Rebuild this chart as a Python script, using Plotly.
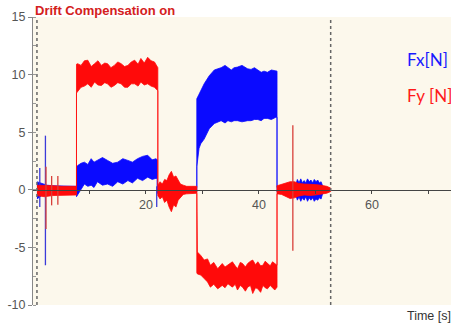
import plotly.graph_objects as go

# ---------------- data ----------------
# Fx [N] envelope: time, lower edge, upper edge (repeated times = steps)
fx_t = [0.7, 1.2, 1.8, 2.5, 3.5, 4.5, 5.5, 6.5, 7.7,
        7.7, 7.9, 8.5, 9.1, 9.7, 10.3, 10.8, 11.4, 12.3, 13.2, 14.1, 15.0, 15.9, 16.8,
        17.6, 18.5, 19.4, 20.3, 21.1, 21.8, 22.0,
        22.0, 23.0, 24.5, 26.0, 27.5, 29.0,
        29.0, 29.4, 29.7, 30.3, 31.2, 32.1, 32.7, 33.3, 34.0, 34.5, 35.1, 35.6, 36.2,
        37.0, 38.0, 38.6, 39.2, 39.8, 40.4, 40.9, 41.5, 42.2, 43.0, 43.2,
        43.2, 44.0, 45.5, 46.5, 46.8, 47.1, 47.4, 47.7, 48.0, 48.3, 48.6, 48.9, 49.2,
        49.5, 49.8, 50.1, 50.4, 50.7, 51.0, 51.3, 52.0]
fx_lo = [-0.8, -0.6, -0.4, -0.3, -0.3, -0.3, -0.25, -0.25, -0.25,
         -0.6, -0.5, 0.0, 0.5, 0.3, 0.4, 0.2, 0.7, 0.4, 0.5, 0.3, 0.7, 0.5, 0.8,
         0.6, 1.0, 0.8, 1.1, 0.9, 1.0, 0.9,
         -0.3, -0.25, -0.2, -0.2, -0.2, -0.2,
         2.0, 3.6, 4.0, 4.4, 5.3, 5.75, 5.9, 6.0, 5.8, 6.0, 5.9, 6.0, 6.0,
         5.9, 6.0, 6.0, 6.1, 6.1, 6.0, 6.2, 6.2, 6.1, 6.3, 6.3,
         -0.2, -0.25, -0.3, -0.4, -0.9, -0.6, -1.0, -0.7, -0.9, -0.6, -1.0, -0.7, -0.9,
         -0.7, -1.0, -0.8, -0.9, -0.7, -0.8, -0.3, -0.1]
fx_hi = [0.7, 0.6, 0.5, 0.4, 0.35, 0.35, 0.35, 0.3, 0.3,
         2.0, 2.1, 2.3, 2.4, 2.2, 2.7, 2.4, 2.55, 2.8, 2.55, 2.3, 2.4, 2.7, 2.55,
         2.4, 2.7, 2.9, 3.0, 2.6, 2.7, 2.6,
         0.3, 0.25, 0.25, 0.2, 0.2, 0.2,
         7.9, 8.3, 8.6, 9.2, 9.9, 10.4, 10.5, 10.6, 10.8, 10.65, 10.4, 10.6, 10.65,
         10.8, 10.5, 10.45, 10.6, 10.4, 10.2, 10.3, 10.2, 10.4, 10.3, 10.3,
         0.2, 0.25, 0.3, 0.4, 0.9, 0.6, 0.95, 0.6, 0.8, 0.6, 0.95, 0.7, 0.85,
         0.6, 0.9, 0.7, 0.85, 0.6, 0.7, 0.3, 0.1]

# Fy [N] envelope
fy_t = [0.7, 2.0, 3.5, 5.0, 6.5, 7.7,
        7.7, 7.9, 8.5, 9.1, 9.7, 10.3, 10.9, 11.5, 12.1, 12.7, 13.2, 13.8, 14.4, 15.0,
        15.6, 16.2, 16.8, 17.4, 18.0, 18.6, 19.1, 19.7, 20.3, 20.9, 21.5, 22.1,
        22.1, 22.5, 22.9, 23.3, 23.7, 24.1, 24.5, 24.9, 25.3, 25.7, 26.1, 26.6, 27.2, 28.0, 29.0,
        29.0, 29.1, 29.7, 30.3, 30.9, 31.4, 32.0, 32.7, 33.5, 34.0, 34.5, 35.3, 35.8, 36.2,
        36.7, 37.1, 37.6, 38.0, 38.5, 38.9, 39.4, 39.8, 40.3, 40.7, 41.1, 41.5, 42.0, 42.4,
        42.8, 43.2,
        43.2, 44.0, 44.8, 45.5, 46.3, 47.0, 48.0, 49.0, 50.0, 51.0, 52.0, 52.7]
fy_lo = [-0.5, -0.6, -0.5, -0.5, -0.45, -0.45,
         8.4, 8.5, 8.9, 9.0, 9.2, 8.9, 9.35, 9.1, 9.05, 9.3, 9.2, 8.9, 9.05, 9.3,
         9.2, 8.9, 8.9, 9.2, 9.2, 9.0, 9.35, 9.1, 9.2, 9.0, 8.9, 8.6,
         -0.5, -0.8, -0.6, -1.1, -0.9, -1.5, -1.9, -1.3, -1.5, -0.9, -0.7, -0.4, -0.35, -0.3, -0.3,
         -7.2, -7.3, -7.4, -7.7, -8.0, -8.45, -8.2, -8.6, -8.3, -8.5, -8.15, -8.45, -8.2, -8.7,
         -8.3, -8.45, -8.8, -8.45, -8.3, -9.0, -8.5, -8.6, -8.9, -8.3, -8.5, -8.6, -8.3, -8.5,
         -8.7, -8.45,
         -0.35, -0.4, -0.6, -0.75, -0.7, -0.55, -0.45, -0.5, -0.45, -0.4, -0.3, -0.15]
fy_hi = [0.4, 0.4, 0.35, 0.3, 0.3, 0.3,
         10.9, 10.95, 10.8, 11.2, 11.25, 10.7, 10.95, 11.2, 10.8, 11.0, 10.95, 10.6, 10.8, 11.1,
         10.95, 10.7, 10.8, 11.1, 11.25, 10.9, 11.4, 11.0, 11.5, 11.2, 11.1, 10.6,
         0.4, 0.7, 0.5, 0.9, 0.8, 1.3, 1.6, 1.1, 1.2, 0.8, 0.5, 0.4, 0.3, 0.3, 0.3,
         0.3, -5.4, -5.7, -6.1, -6.0, -6.55, -6.3, -6.85, -6.4, -6.7, -6.55, -6.25, -6.6, -6.85,
         -6.3, -6.4, -6.7, -6.4, -6.2, -6.1, -6.5, -6.25, -6.6, -6.55, -6.2, -6.4, -6.6, -6.25,
         -6.4, -6.55,
         0.35, 0.45, 0.6, 0.7, 0.7, 0.55, 0.5, 0.5, 0.45, 0.4, 0.3, 0.15]

# isolated spikes: time, min, max
fx_spike_t = [1.2, 2.2, 21.9]
fx_spike_lo = [-1.5, -6.55, -1.5]
fx_spike_hi = [1.9, 4.7, 0.3]
fy_spike_t = [2.3, 3.3, 4.4, 46.0]
fy_spike_lo = [-3.4, -1.35, -1.3, -5.3]
fy_spike_hi = [2.0, 1.2, 1.2, 5.6]

marker_times = [0.7, 52.7]           # dotted vertical markers
x_tick_vals = [10, 20, 30, 40, 50, 60, 70]
x_tick_text = ["", "20", "", "40", "", "60", ""]
y_tick_vals = [-10, -5, 0, 5, 10, 15]
y_tick_text = ["-10", "-5", "0", "5", "10", "15"]

title_text = "Drift Compensation on"
series_names = ["Fx[N]", "Fy [N]"]
x_label = "Time [s]"

# ---------------- figure ----------------
BLUE = "#0a0aff"
RED = "#ff0a0a"


def band(t, lo, hi):
    return list(t) + list(t)[::-1], list(hi) + list(lo)[::-1]


def spikes(t, lo, hi):
    xs, ys = [], []
    for a, b, c in zip(t, lo, hi):
        xs += [a, a, None]
        ys += [b, c, None]
    return xs, ys


fig = go.Figure()

bx, by = band(fx_t, fx_lo, fx_hi)
fig.add_trace(go.Scatter(x=bx, y=by, mode="lines", fill="toself", fillcolor=BLUE,
                         line=dict(color=BLUE, width=0.8), hoverinfo="skip", showlegend=False))
sx, sy = spikes(fx_spike_t, fx_spike_lo, fx_spike_hi)
fig.add_trace(go.Scatter(x=sx, y=sy, mode="lines", line=dict(color="#3b3bd9", width=1.3),
                         hoverinfo="skip", showlegend=False))

bx, by = band(fy_t, fy_lo, fy_hi)
fig.add_trace(go.Scatter(x=bx, y=by, mode="lines", fill="toself", fillcolor=RED,
                         line=dict(color=RED, width=0.8), hoverinfo="skip", showlegend=False))
sx, sy = spikes(fy_spike_t, fy_spike_lo, fy_spike_hi)
fig.add_trace(go.Scatter(x=sx, y=sy, mode="lines", line=dict(color="#d8403a", width=1.3),
                         hoverinfo="skip", showlegend=False))

for mt in marker_times:
    fig.add_shape(type="line", x0=mt, x1=mt, y0=0, y1=1, xref="x", yref="paper",
                  line=dict(color="#666666", width=1.5, dash="dot"), layer="above")

tick_font = dict(family="Liberation Sans, Arial", size=12.5, color="#555555")

fig.update_layout(
    width=451, height=326,
    margin=dict(l=33, r=0, t=17, b=21),
    paper_bgcolor="white",
    plot_bgcolor="#fcf8ec",
    showlegend=False,
    xaxis=dict(range=[0, 74], showgrid=False, zeroline=False,
               anchor="free", position=0.4, showline=True, linecolor="#444444", linewidth=1,
               tickmode="array", tickvals=x_tick_vals, ticktext=x_tick_text,
               ticks="outside", ticklen=3, tickcolor="#444444", tickfont=tick_font,
               layer="above traces"),
    yaxis=dict(range=[-10, 15], showgrid=False, zeroline=False,
               showline=True, linecolor="#888888", linewidth=1,
               tickmode="array", tickvals=y_tick_vals, ticktext=y_tick_text,
               ticks="outside", ticklen=4, tickcolor="#888888", tickfont=tick_font,
               minor=dict(dtick=2.5, tick0=0, ticks="inside", ticklen=3, tickcolor="#999999")),
)

fig.add_annotation(text="<b>" + title_text + "</b>", xref="paper", yref="paper",
                   x=0.0, y=1.024, xanchor="left", yanchor="middle", showarrow=False,
                   font=dict(family="Liberation Sans, Arial", size=13, color="#d42020"))
fig.add_annotation(text=series_names[0], xref="paper", yref="paper",
                   x=0.89, y=0.851, xanchor="left", yanchor="middle", showarrow=False,
                   font=dict(family="Lato", size=17, color="#1a1aff"))
fig.add_annotation(text=series_names[1], xref="paper", yref="paper",
                   x=0.89, y=0.726, xanchor="left", yanchor="middle", showarrow=False,
                   font=dict(family="Lato", size=17, color="#ff1a1a"))
fig.add_annotation(text=x_label, xref="paper", yref="paper",
                   x=0.89, y=-0.038, xanchor="left", yanchor="middle", showarrow=False,
                   font=dict(family="Liberation Sans, Arial", size=12.5, color="#333333"))

fig.write_html("out.html", config={"displayModeBar": False},
               post_script="document.body.style.margin='0';document.body.style.overflow='hidden';")
